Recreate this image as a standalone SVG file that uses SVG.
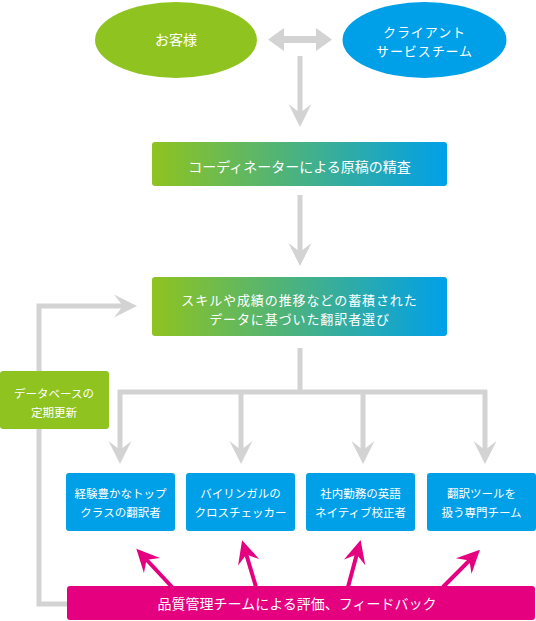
<svg xmlns="http://www.w3.org/2000/svg" width="536" height="621" viewBox="0 0 536 621">
  <style>
    text { font-family: "Noto Sans CJK JP", "Noto Sans", sans-serif; fill: #ffffff; text-anchor: middle; }
    .t14 { font-size: 14px; }
    .t13 { font-size: 13px; letter-spacing: 0.9px; }
    .t12 { font-size: 11.5px; }
    .gline { fill: none; stroke: #d3d3d3; stroke-width: 5; }
    .mline { fill: none; stroke: #e4007f; stroke-width: 4; }
    .blue { fill: #00a0e9; }
    .green { fill: #8fc31f; }
  </style>
  <defs>
    <linearGradient id="grad" x1="0" y1="0" x2="1" y2="0">
      <stop offset="0" stop-color="#8fc31f"/>
      <stop offset="1" stop-color="#00a0e9"/>
    </linearGradient>
    <marker id="ag" markerUnits="userSpaceOnUse" markerWidth="30" markerHeight="30" viewBox="-25 -15 30 30" refX="-12" refY="0" orient="auto">
      <path d="M0,0 L-23,-11.5 L-14,0 L-23,11.5 Z" fill="#d3d3d3"/>
    </marker>
    <marker id="am" markerUnits="userSpaceOnUse" markerWidth="30" markerHeight="30" viewBox="-25 -15 30 30" refX="-12" refY="0" orient="auto">
      <path d="M0,0 L-23,-11 L-15,0 L-23,11 Z" fill="#e4007f"/>
    </marker>
  </defs>

  <g id="connectors">
    <polygon points="268,39.5 284,28 284,36 316,36 316,28 332,39.5 316,51 316,43 284,43 284,51" fill="#d3d3d3"/>
    <line class="gline" x1="300" y1="56" x2="300" y2="115" marker-end="url(#ag)"/>
    <line class="gline" x1="300" y1="195" x2="300" y2="254" marker-end="url(#ag)"/>
    <polyline class="gline" points="300,348 300,392"/>
    <polyline class="gline" points="118,392 487,392"/>
    <line class="gline" x1="120" y1="390" x2="120" y2="452" marker-end="url(#ag)"/>
    <line class="gline" x1="241" y1="390" x2="241" y2="452" marker-end="url(#ag)"/>
    <line class="gline" x1="363" y1="390" x2="363" y2="452" marker-end="url(#ag)"/>
    <line class="gline" x1="485" y1="390" x2="485" y2="452" marker-end="url(#ag)"/>
    <polyline class="gline" points="67,604 39,604 39,306 125,306" marker-end="url(#ag)"/>
    <line class="mline" x1="172" y1="587" x2="144.5" y2="557.5" marker-end="url(#am)"/>
    <line class="mline" x1="256" y1="587" x2="245.5" y2="551.7" marker-end="url(#am)"/>
    <line class="mline" x1="348" y1="587" x2="357.5" y2="551.7" marker-end="url(#am)"/>
    <line class="mline" x1="443" y1="587" x2="471.5" y2="558.3" marker-end="url(#am)"/>
  </g>

  <g id="customer">
    <ellipse cx="176" cy="40" rx="81" ry="38" class="green"/>
    <text class="t14" x="176" y="45">お客様</text>
  </g>
  <g id="client-service">
    <ellipse cx="424.5" cy="40" rx="82" ry="38" class="blue"/>
    <text class="t13" x="424.5" y="36.5">クライアント</text>
    <text class="t13" x="424.5" y="55.5">サービスチーム</text>
  </g>
  <g id="coordinator">
    <rect x="152" y="142" width="295" height="44" rx="3" fill="url(#grad)"/>
    <text class="t14" x="299.5" y="172">コーディネーターによる原稿の精査</text>
  </g>
  <g id="selection">
    <rect x="152" y="277" width="295" height="59" rx="3" fill="url(#grad)"/>
    <text class="t13" x="299.5" y="304.5">スキルや成績の推移などの蓄積された</text>
    <text class="t13" x="299.5" y="323.5">データに基づいた翻訳者選び</text>
  </g>
  <g id="database">
    <rect x="0" y="371" width="109" height="58" rx="3" class="green"/>
    <text class="t12" x="54" y="397.5">データベースの</text>
    <text class="t12" x="54" y="416.5">定期更新</text>
  </g>
  <g id="translator">
    <rect x="66" y="473" width="109" height="58" rx="3" class="blue"/>
    <text class="t12" x="120.5" y="497.5">経験豊かなトップ</text>
    <text class="t12" x="120.5" y="516.5">クラスの翻訳者</text>
  </g>
  <g id="checker">
    <rect x="186" y="473" width="109" height="58" rx="3" class="blue"/>
    <text class="t12" x="240.5" y="497.5">バイリンガルの</text>
    <text class="t12" x="240.5" y="516.5">クロスチェッカー</text>
  </g>
  <g id="native">
    <rect x="306" y="473" width="109" height="58" rx="3" class="blue"/>
    <text class="t12" x="360.5" y="497.5">社内勤務の英語</text>
    <text class="t12" x="360.5" y="516.5">ネイティブ校正者</text>
  </g>
  <g id="tools">
    <rect x="427" y="473" width="109" height="58" rx="3" class="blue"/>
    <text class="t12" x="481.5" y="497.5">翻訳ツールを</text>
    <text class="t12" x="481.5" y="516.5">扱う専門チーム</text>
  </g>
  <g id="quality">
    <rect x="67" y="586" width="468" height="34" rx="3" fill="#e4007f"/>
    <text class="t14" x="297" y="609">品質管理チームによる評価、フィードバック</text>
  </g>
</svg>
